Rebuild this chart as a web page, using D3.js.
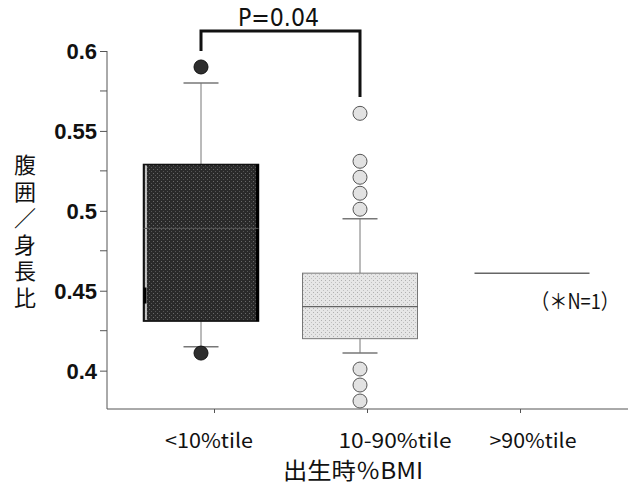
<!DOCTYPE html>
<html><head><meta charset="utf-8">
<script src="https://cdn.jsdelivr.net/npm/d3@7"></script>
<style>html,body{margin:0;padding:0;background:#fff;}svg{display:block;}</style>
</head><body><svg id="c" width="631" height="488"></svg>
<script>
// ---- data ----
const categories = ["<10%tile", "10-90%tile", ">90%tile"];
const q1 = [0.431, 0.420, 0.461];
const median = [0.489, 0.440, 0.461];
const q3 = [0.529, 0.461, 0.461];
const whiskerLow = [0.415, 0.411, null];
const whiskerHigh = [0.580, 0.495, null];
const meanMark = [0.447, null, null];
const outliers1 = [0.590, 0.411];
const outliers2 = [0.561, 0.531, 0.521, 0.511, 0.501, 0.401, 0.391, 0.381];
const outliers3 = [];
const majorTicks = [0.4, 0.45, 0.5, 0.55, 0.6];
const minorTicks = [0.425, 0.475, 0.525, 0.575];
const pLabel = "P=0.04";
const nNote = "（＊N=1）";
const yTitle = "腹囲／身長比";
const xTitle = "出生時％BMI";

const outliers = [outliers1, outliers2, outliers3];

const svg = d3.select("#c");
const y = d3.scaleLinear().domain([0.376, 0.6]).range([409, 51]);
const xTick = d3.scalePoint().domain(categories).range([214, 520]);
const xBox = d3.scaleOrdinal().domain(categories).range([201, 360, 532]);
const boxW = 115;
const capW = 35;

// defs: stipple patterns
const defs = svg.append("defs");
const pd = defs.append("pattern").attr("id","pd").attr("width",4).attr("height",4).attr("patternUnits","userSpaceOnUse");
pd.append("rect").attr("width",4).attr("height",4).attr("fill","#2a2a2a");
pd.append("rect").attr("x",1).attr("y",1).attr("width",1).attr("height",1).attr("fill","#6a6a6a");
pd.append("rect").attr("x",3).attr("y",3).attr("width",1).attr("height",1).attr("fill","#555");
const pl = defs.append("pattern").attr("id","pl").attr("width",4).attr("height",4).attr("patternUnits","userSpaceOnUse");
pl.append("rect").attr("width",4).attr("height",4).attr("fill","#e6e6e6");
pl.append("rect").attr("x",1).attr("y",0).attr("width",1).attr("height",1).attr("fill","#b0b0b0");
pl.append("rect").attr("x",3).attr("y",2).attr("width",1).attr("height",1).attr("fill","#c0c0c0");

// y axis
const yAxis = d3.axisLeft(y).tickValues(majorTicks).tickSize(7).tickFormat(d3.format(""));
const gy = svg.append("g").attr("transform","translate(107,0)").call(yAxis);
gy.select(".domain").attr("stroke","#555").attr("d","M0,51V409");
gy.selectAll(".tick line").attr("stroke","#555");
gy.selectAll(".tick text").attr("font-family","Liberation Sans, Arial, sans-serif")
  .attr("font-weight","bold").attr("font-size",22).attr("fill","#111").attr("x",-10).attr("dy","0.36em");
svg.append("g").selectAll("line").data(minorTicks).join("line")
  .attr("x1",100).attr("x2",107).attr("y1",d=>y(d)).attr("y2",d=>y(d)).attr("stroke","#555");

// x axis
const xAxis = d3.axisBottom(xTick).tickSize(4).tickFormat("");
const gx = svg.append("g").attr("transform","translate(0,409)").call(xAxis);
gx.select(".domain").attr("stroke","#555").attr("d","M107,0H628");
gx.selectAll(".tick line").attr("stroke","#555");
const labelShift = [-5, 28, 13];
const labelWidth = [88, 113, 87];
svg.append("g").selectAll("text").data(categories).join("text")
  .attr("x",(d,i)=>xTick(d)+labelShift[i]).attr("y",448)
  .attr("text-anchor","middle").attr("font-family","Noto Sans CJK JP, sans-serif")
  .attr("font-size",20).attr("fill","#111")
  .attr("textLength",(d,i)=>labelWidth[i]).attr("lengthAdjust","spacingAndGlyphs")
  .text(d=>d);

// x title
svg.append("text").attr("x",353).attr("y",479).attr("text-anchor","middle")
  .attr("font-family","Noto Sans CJK JP, sans-serif").attr("font-size",23).attr("fill","#111")
  .attr("textLength",140).attr("lengthAdjust","spacingAndGlyphs").text(xTitle);

// y title (stacked characters)
const yt = svg.append("text").attr("font-family","Noto Sans CJK JP, sans-serif")
  .attr("font-size",22).attr("fill","#111").attr("text-anchor","middle");
Array.from(yTitle).forEach((ch,i)=>{
  yt.append("tspan").attr("x",25).attr("y",173 + i*26.5).text(ch);
});

// boxes
const g = svg.append("g");
categories.forEach((c,i)=>{
  const cx = xBox(c);
  if (whiskerLow[i] !== null) {
    g.append("line").attr("x1",cx).attr("x2",cx).attr("y1",y(q3[i])).attr("y2",y(whiskerHigh[i])).attr("stroke","#777");
    g.append("line").attr("x1",cx).attr("x2",cx).attr("y1",y(q1[i])).attr("y2",y(whiskerLow[i])).attr("stroke","#777");
    g.append("line").attr("x1",cx-capW/2).attr("x2",cx+capW/2).attr("y1",y(whiskerHigh[i])).attr("y2",y(whiskerHigh[i])).attr("stroke","#777").attr("stroke-width",1.5);
    g.append("line").attr("x1",cx-capW/2).attr("x2",cx+capW/2).attr("y1",y(whiskerLow[i])).attr("y2",y(whiskerLow[i])).attr("stroke","#777").attr("stroke-width",1.5);
  }
  if (q3[i] > q1[i]) {
    const dark = i === 0;
    g.append("rect").attr("x",cx-boxW/2).attr("y",y(q3[i])).attr("width",boxW).attr("height",y(q1[i])-y(q3[i]))
      .attr("fill",dark?"url(#pd)":"url(#pl)").attr("stroke",dark?"#111":"#777").attr("stroke-width",dark?1.5:1);
    if (dark) {
      g.append("line").attr("x1",cx-boxW/2+2.5).attr("x2",cx-boxW/2+2.5).attr("y1",y(q3[i])+1).attr("y2",y(q1[i])-1)
        .attr("stroke","#eee").attr("stroke-width",1.5);
      g.append("line").attr("x1",cx+boxW/2-1).attr("x2",cx+boxW/2-1).attr("y1",y(q3[i])).attr("y2",y(q1[i]))
        .attr("stroke","#000").attr("stroke-width",3);
    }
    if (meanMark[i] !== null) {
      g.append("line").attr("x1",cx-boxW/2+1.5).attr("x2",cx-boxW/2+1.5)
        .attr("y1",y(meanMark[i])-8).attr("y2",y(meanMark[i])+8).attr("stroke","#000").attr("stroke-width",3);
    }
    g.append("line").attr("x1",cx-boxW/2).attr("x2",cx+boxW/2).attr("y1",y(median[i])).attr("y2",y(median[i]))
      .attr("stroke",dark?"#555":"#444").attr("stroke-width",1);
  } else {
    g.append("line").attr("x1",cx-boxW/2).attr("x2",cx+boxW/2).attr("y1",y(median[i])).attr("y2",y(median[i]))
      .attr("stroke","#666").attr("stroke-width",1.5);
  }
  g.selectAll(null).data(outliers[i]).join("circle")
    .attr("cx",cx).attr("cy",d=>y(d)).attr("r",7)
    .attr("fill",i===0?"#2e2e2e":"#e2e2e2").attr("stroke",i===0?"#111":"#555").attr("stroke-width",1);
});

// significance bracket
const bx1 = xBox(categories[0]), bx2 = xBox(categories[1]);
svg.append("path").attr("d",`M${bx1},${y(0.6)}V31H${bx2}V97`)
  .attr("fill","none").attr("stroke","#111").attr("stroke-width",3);
svg.append("text").attr("x",(bx1+bx2)/2 - 2).attr("y",26).attr("text-anchor","middle")
  .attr("font-family","DejaVu Sans, sans-serif").attr("font-size",24).attr("fill","#111")
  .attr("textLength",81).attr("lengthAdjust","spacingAndGlyphs").text(pLabel);

// N note
svg.append("text").attr("x",531).attr("y",309).attr("text-anchor","start")
  .attr("font-family","Noto Sans CJK JP, sans-serif").attr("font-size",21).attr("fill","#111")
  .attr("textLength",88).attr("lengthAdjust","spacingAndGlyphs").text(nNote);
</script></body></html>
